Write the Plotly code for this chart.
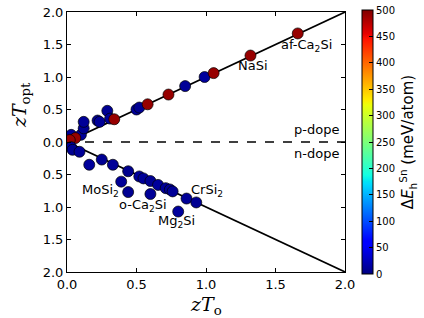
import plotly.graph_objects as go

# p-type (upper) and n-type (lower, negative) optimized zT vs original zT
zt_o = [0.03, 0.02, 0.10, 0.12, 0.12, 0.22, 0.235, 0.29, 0.31, 0.50, 0.52, 0.85, 0.99,
        0.06, 0.02, 0.34, 0.58, 0.73, 1.055, 1.32, 1.66,
        0.03, 0.04, 0.09, 0.16, 0.25, 0.33, 0.44, 0.39, 0.44, 0.52, 0.55, 0.60, 0.60,
        0.655, 0.71, 0.74, 0.76, 0.80, 0.86, 0.93]
zt_opt = [0.11, 0.01, 0.11, 0.21, 0.31, 0.33, 0.31, 0.48, 0.36, 0.50, 0.53, 0.86, 1.00,
          0.06, 0.03, 0.35, 0.58, 0.73, 1.06, 1.33, 1.67,
          -0.08, -0.12, -0.15, -0.35, -0.27, -0.35, -0.45, -0.61, -0.77, -0.53, -0.56, -0.60, -0.80,
          -0.66, -0.71, -0.73, -0.76, -1.07, -0.87, -0.93]
dE_h = [10, 5, 12, 8, 10, 6, 10, 8, 12, 10, 8, 10, 12,
        490, 490, 490, 490, 490, 490, 490, 490,
        10, 8, 10, 12, 8, 10, 6, 10, 8, 12, 10, 8, 10,
        12, 10, 8, 10, 12, 10, 8]

# reference lines
line_x = [0.0, 2.0]
line_p = [0.0, 2.0]
line_n = [0.0, -2.0]

# annotations
label_text = ["af-Ca<sub>2</sub>Si", "NaSi", "MoSi<sub>2</sub>", "o-Ca<sub>2</sub>Si",
              "Mg<sub>2</sub>Si", "CrSi<sub>2</sub>"]
label_x = [1.72, 1.34, 0.24, 0.55, 0.79, 1.01]
label_y = [1.48, 1.17, -0.75, -0.97, -1.22, -0.75]

ytick_vals = [-2.0, -1.5, -1.0, -0.5, 0.0, 0.5, 1.0, 1.5, 2.0]
ytick_text = ["2.0", "1.5", "1.0", "0.5", "0.0", "0.5", "1.0", "1.5", "2.0"]
xtick_vals = [0.0, 0.5, 1.0, 1.5, 2.0]

# matplotlib 'jet' colormap
jet = [[0.0, "rgb(0,0,128)"], [0.11, "rgb(0,0,255)"], [0.125, "rgb(0,0,255)"],
       [0.34, "rgb(0,219,255)"], [0.35, "rgb(0,229,246)"], [0.375, "rgb(20,255,226)"],
       [0.5, "rgb(124,255,121)"], [0.64, "rgb(236,255,10)"], [0.66, "rgb(255,236,0)"],
       [0.89, "rgb(255,18,0)"], [0.91, "rgb(232,0,0)"], [1.0, "rgb(128,0,0)"]]

font_main = "DejaVu Sans"

fig = go.Figure()
fig.add_trace(go.Scatter(x=line_x, y=line_p, mode="lines",
                         line=dict(color="black", width=1.6), showlegend=False, hoverinfo="skip"))
fig.add_trace(go.Scatter(x=line_x, y=line_n, mode="lines",
                         line=dict(color="black", width=1.6), showlegend=False, hoverinfo="skip"))
fig.add_trace(go.Scatter(x=[0, 2], y=[0, 0], mode="lines",
                         line=dict(color="black", width=1.4, dash="dash"), showlegend=False,
                         hoverinfo="skip"))
fig.add_trace(go.Scatter(
    x=zt_o, y=zt_opt, mode="markers", showlegend=False,
    marker=dict(size=11, color=dE_h, cmin=0, cmax=500, colorscale=jet,
                line=dict(color="black", width=0.7),
                colorbar=dict(
                    thickness=11, len=264, lenmode="pixels", x=1.061, xanchor="left",
                    xpad=0, ypad=0,
                    y=0.5, yanchor="middle", outlinecolor="black", outlinewidth=1,
                    tickvals=[0, 50, 100, 150, 200, 250, 300, 350, 400, 450, 500],
                    ticks="inside", ticklen=4, tickcolor="black",
                    tickfont=dict(family=font_main, size=10, color="black"),
                    title=dict(text="Δ<i>E</i><sub>h</sub><sup>Sn</sup> (meV/atom)", side="right",
                               font=dict(family=font_main, size=15, color="black")),
                ))))

for t, x, y in zip(label_text, label_x, label_y):
    fig.add_annotation(x=x, y=y, text=t, showarrow=False,
                       font=dict(family=font_main, size=13, color="black"))
fig.add_annotation(x=1.97, y=0.2, text="p-dope", showarrow=False, xanchor="right",
                   font=dict(family=font_main, size=13, color="black"))
fig.add_annotation(x=1.97, y=-0.18, text="n-dope", showarrow=False, xanchor="right",
                   font=dict(family=font_main, size=13, color="black"))

# axis titles
fig.add_annotation(xref="paper", yref="paper", x=-0.169, y=0.642, text="<i>zT</i><sub>opt</sub>",
                   textangle=-90, showarrow=False, xanchor="center", yanchor="middle",
                   font=dict(family="DejaVu Serif", size=19, color="black"))
fig.add_annotation(xref="paper", yref="paper", x=0.5, y=-0.128, text="<i>zT</i><sub>o</sub>",
                   showarrow=False, xanchor="center", yanchor="middle",
                   font=dict(family="DejaVu Serif", size=19, color="black"))

axis_common = dict(showline=True, linecolor="black", linewidth=1, mirror="ticks",
                   ticks="inside", ticklen=4, tickcolor="black", showgrid=False, zeroline=False,
                   tickfont=dict(family=font_main, size=13, color="black"))
fig.update_xaxes(range=[0, 2], tickvals=xtick_vals, ticktext=["0.0", "0.5", "1.0", "1.5", "2.0"],
                 **axis_common)
fig.update_yaxes(range=[-2, 2], tickvals=ytick_vals, ticktext=ytick_text, **axis_common)
fig.update_layout(width=424, height=318,
                  margin=dict(l=67, r=79, t=12, b=46, autoexpand=False),
                  plot_bgcolor="white", paper_bgcolor="white")
# remove the page body's default margin so the figure fills the window exactly
fig.write_html("out.html", config={"displayModeBar": False},
               post_script="document.body.style.margin='0';")
